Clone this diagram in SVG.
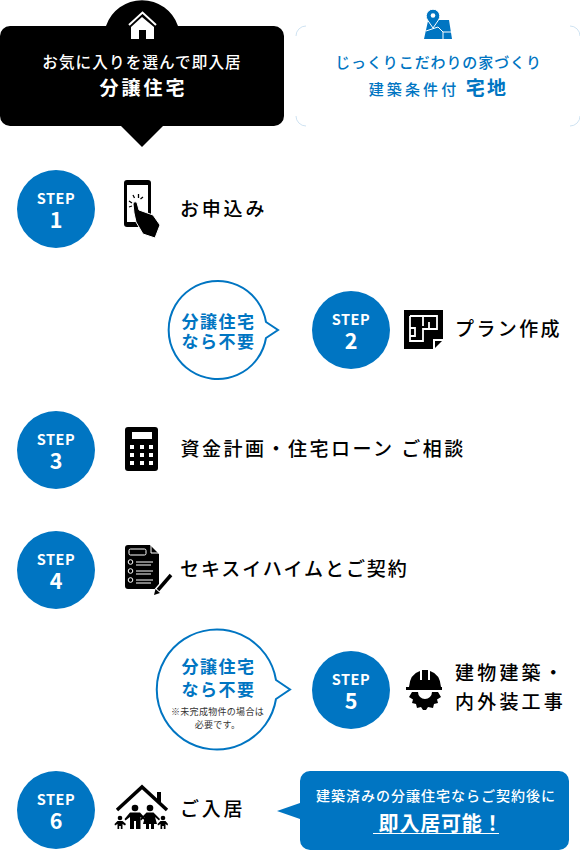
<svg xmlns="http://www.w3.org/2000/svg" width="580" height="859" viewBox="0 0 580 859">
<style>
text{font-family:"Noto Sans CJK JP","Noto Sans",sans-serif}
.step{fill:#0075c2}
.sl{fill:#fff;font-size:14.500px;font-weight:700;text-anchor:middle;letter-spacing:.5px}
.sn{fill:#fff;font-size:21.500px;font-weight:700;text-anchor:middle}
.t{fill:#000;font-size:19px;font-weight:500;letter-spacing:2.400px}
.b{fill:#0075c2;font-weight:700;font-size:17px;letter-spacing:1.500px;text-anchor:middle}
.bub{fill:#fff;stroke:#0075c2;stroke-width:2}
.ic{fill:#000}
.wl{fill:none;stroke:#fff;stroke-width:1.800}
</style>
<g id="tab-house">
<path d="M0 36a10 10 0 0 1 10-10H106A38 38 0 0 1 178 26H274a10 10 0 0 1 10 10V116a10 10 0 0 1-10 10H163L142 147 121 126H10a10 10 0 0 1-10-10Z" fill="#000"/>
<path d="M131 27 142 17 154 27V39H146V30H139V39H131Z" fill="#fff"/>
<path d="M129 25 142.500 12.500 156 25" fill="none" stroke="#fff" stroke-width="2"/>
<text x="142" y="67.500" fill="#fff" font-size="15.600" font-weight="500" letter-spacing="1.100" text-anchor="middle">お気に入りを選んで即入居</text>
<text x="143.500" y="94.500" fill="#fff" font-size="19" font-weight="700" letter-spacing="3" text-anchor="middle">分譲住宅</text>
</g>
<g id="tab-land">
<path d="M296 36a10 10 0 0 1 10-10M570 26a10 10 0 0 1 10 10M580 116a10 10 0 0 1-10 10M306 126a10 10 0 0 1-10-10" fill="none" stroke="#cfe3f2" stroke-width="1"/>
<path d="M424 39 428 21H438L437 20H449L452 39Z" fill="#0075c2"/>
<path d="M426 31 438 27 443 32V39M443 32H451" fill="none" stroke="#fff" stroke-width="1"/>
<path d="M433 28 427.500 20A6.800 6.800 0 1 1 438.500 20Z" fill="#0075c2" stroke="#fff" stroke-width="1"/>
<circle cx="433" cy="15.500" r="2.300" fill="#fff"/>
<text x="438.500" y="67.500" class="b" style="font-size:15px;font-weight:500;letter-spacing:.9px">じっくりこだわりの家づくり</text>
<text x="414" y="95" class="b" style="font-size:15px;font-weight:500;letter-spacing:3.100px">建築条件付</text>
<text x="487" y="95" class="b" style="font-size:19px;letter-spacing:2.200px">宅地</text>
</g>
<g id="step1">
<circle class="step" cx="56" cy="209" r="39"/>
<text class="sl" x="56" y="204">STEP</text><text class="sn" x="56" y="228">1</text>
<rect x="124" y="180" width="27" height="47" rx="3" fill="#000"/>
<rect x="127" y="185" width="21" height="37" fill="#fff"/>
<path d="M134 213 133 204a2.200 2.200 0 0 1 4.400 0L139 210 153 215 160 225 155 238 143 234 136 222Z" fill="#000" stroke="#fff" stroke-width="1"/>
<path d="M129 201l3 2M129 207l3-1M133 195l1.500 3M138.500 194v4M143 197l-2.500 2" stroke="#000" stroke-width="1.300"/>
<text class="t" x="180" y="216" style="letter-spacing:2.800px">お申込み</text>
</g>
<g id="note-step2">
<path class="bub" d="M266 322A49 49 0 1 0 266 338L278 330Z"/>
<text class="b" x="218.500" y="327.500">分譲住宅</text>
<text class="b" x="218.500" y="348">なら不要</text>
</g>
<g id="step2">
<circle class="step" cx="351" cy="330" r="39"/>
<text class="sl" x="351" y="325">STEP</text><text class="sn" x="351" y="349">2</text>
<path class="ic" d="M404 310H443V339H433V349H404Z"/>
<path d="M434 340H443V342L436 349H434Z" fill="#fff"/>
<path d="M435 341H442L435 348Z" fill="#000"/>
<path class="wl" d="M410 316H437V329H423V341H410V316M423 316V326M429 322V329M410 328H415V336H410"/>
<text class="t" x="455" y="335.500" style="letter-spacing:2.400px">プラン作成</text>
</g>
<g id="step3">
<circle class="step" cx="56" cy="450" r="39"/>
<text class="sl" x="56" y="445">STEP</text><text class="sn" x="56" y="469">3</text>
<rect class="ic" x="125" y="427" width="33" height="44" rx="3"/>
<rect x="132" y="432" width="20" height="7" fill="#fff"/>
<path fill="#fff" d="M130 445h4v4h-4zM140 445h4v4h-4zM149 445h4v4h-4zM130 453h4v4h-4zM140 453h4v4h-4zM149 453h4v4h-4zM130 461h4v4h-4zM140 461h4v4h-4zM149 461h4v4h-4z"/>
<text class="t" x="180.500" y="456" style="letter-spacing:2.500px">資金計画・住宅ローン ご相談</text>
</g>
<g id="step4">
<circle class="step" cx="56" cy="570" r="39"/>
<text class="sl" x="56" y="565">STEP</text><text class="sn" x="56" y="589">4</text>
<path class="ic" d="M128 545H150L159 554V586L156 589H128Q125 589 125 586V548Q125 545 128 545Z"/>
<path d="M151 545V553H159" fill="none" stroke="#fff" stroke-width="1"/>
<rect x="129" y="549" width="17" height="6" rx="1.500" fill="none" stroke="#fff" stroke-width="1"/>
<g fill="none" stroke="#fff" stroke-width="1"><circle cx="130.500" cy="562" r="2.300"/><circle cx="130.500" cy="571" r="2.300"/><circle cx="130.500" cy="580" r="2.300"/></g>
<path d="M136 562H153M136 565H151M136 571H153M136 574H151M136 580H153M136 583H151" stroke="#fff" stroke-width="1"/>
<path d="M156 592 169 577" stroke="#fff" stroke-width="6"/>
<path d="M158 590 171 575" stroke="#000" stroke-width="3.500"/>
<path d="M154 595 155.500 589 160 593Z" fill="#000"/>
<text class="t" x="180" y="575.500" style="letter-spacing:1.950px">セキスイハイムとご契約</text>
</g>
<g id="note-step5">
<path class="bub" d="M276 680A60 60 0 1 0 276 699L290 689.500Z"/>
<text class="b" x="218.500" y="673">分譲住宅</text>
<text class="b" x="218.500" y="695.500">なら不要</text>
<text x="217.500" y="715" fill="#333" font-size="9" letter-spacing=".3" text-anchor="middle">※未完成物件の場合は</text>
<text x="217.500" y="727.500" fill="#333" font-size="9" letter-spacing=".3" text-anchor="middle">必要です。</text>
</g>
<g id="step5">
<circle class="step" cx="351" cy="690" r="39"/>
<text class="sl" x="351" y="685">STEP</text><text class="sn" x="351" y="709">5</text>
<path class="ic" d="M409 687Q410 674 420 671V680H422V670H428V680H430V671Q440 674 441 687H442V690H406V687Z"/>
<path class="ic" fill-rule="evenodd" d="M412 692H438L441 697 437 699.500 438 703 434 704 433 708 428 707 426 710H423L421 707 417 708 416 704 412 703 413 699.500 409 697ZM418 692A7 7 0 0 0 432 692Z"/>
<text class="t" x="455" y="680" style="letter-spacing:3.200px">建物建築・</text>
<text class="t" x="455" y="709" style="letter-spacing:3.200px">内外装工事</text>
</g>
<g id="step6">
<circle class="step" cx="56" cy="810" r="39"/>
<text class="sl" x="56" y="805">STEP</text><text class="sn" x="56" y="829">6</text>
<path d="M117 810 142 787 167 810" fill="none" stroke="#000" stroke-width="3.500"/>
<rect x="157" y="792" width="4" height="10"/>
<g class="ic">
<circle cx="135" cy="808" r="3.300"/><path d="M130 812.500H140L146 819 145 820.500 140.500 817V829H136V821H134V829H130V817L125.500 820.500 124.500 819Z"/>
<circle cx="150" cy="808" r="3.300"/><path d="M146.500 812.500H153.500L160 819 159 820.500 155 817 157 824H154V829H151V824H149V829H146V824H143L145 817 141 820.500 140 819Z"/>
<circle cx="120" cy="818" r="2.300"/><path d="M117.500 821H122.500L126 824 125 825.500 122.500 824V829H120.800V826H119.200V829H117.500V824L115 825.500 114.500 824Z"/>
<circle cx="163" cy="818" r="2.300"/><path d="M160.500 821H165.500L168 824 167.500 825.500 165.500 824V829H163.800V826H162.200V829H160.500V824L158 825.500 157.500 824Z"/>
</g>
<text class="t" x="180" y="815.500" style="letter-spacing:2.800px">ご入居</text>
</g>
<g id="note-step6">
<path d="M310 771H559a10 10 0 0 1 10 10V840a10 10 0 0 1-10 10H310a10 10 0 0 1-10-10V819L277 811 300 803V781a10 10 0 0 1 10-10Z" fill="#0075c2"/>
<text x="436" y="801" fill="#fff" font-size="14" font-weight="500" letter-spacing="1" text-anchor="middle">建築済みの分譲住宅ならご契約後に</text>
<text x="441" y="830.500" fill="#fff" font-size="20" font-weight="700" letter-spacing=".8" text-anchor="middle">即入居可能！</text>
<rect x="373" y="833" width="126" height="1" fill="#fff"/>
</g>
</svg>
